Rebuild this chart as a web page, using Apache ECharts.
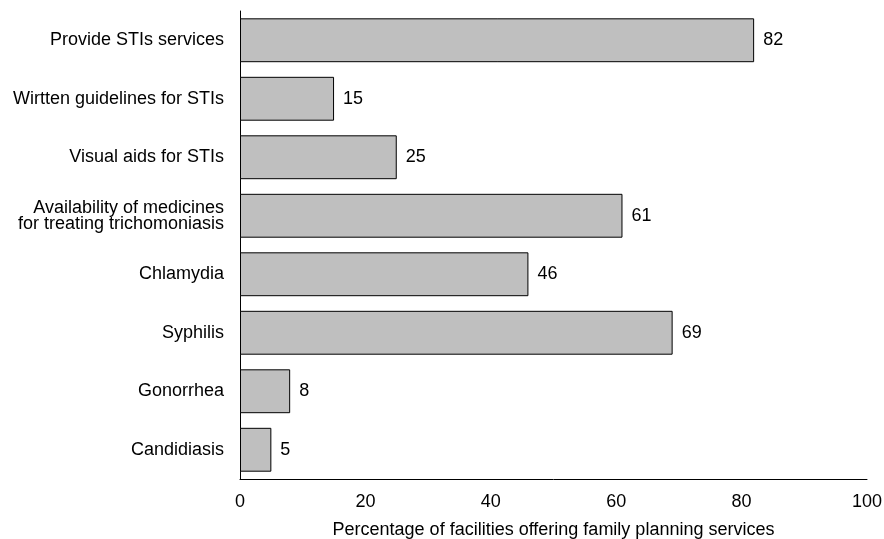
<!DOCTYPE html>
<html>
<head>
<meta charset="utf-8">
<script src="https://cdn.jsdelivr.net/npm/echarts@6/dist/echarts.min.js"></script>
<style>
  html, body { margin: 0; padding: 0; background: #fff; }
  #chart { width: 884px; height: 539px; }
</style>
</head>
<body>
<div id="chart"></div>
<script>
var categories = [
    'Provide STIs services',
    'Wirtten guidelines for STIs',
    'Visual aids for STIs',
    'Availability of medicines\nfor treating trichomoniasis',
    'Chlamydia',
    'Syphilis',
    'Gonorrhea',
    'Candidiasis'
];
var values = [82, 15, 25, 61, 46, 69, 8, 5];
var xTicks = [0, 20, 40, 60, 80, 100];

var fontFamily = 'Liberation Sans, Arial, sans-serif';
var fontColor = '#000';
var fontSize = 18;

var myChart = echarts.init(document.getElementById('chart'));

var option = {
    animation: false,
    grid: {
        left: 240,
        right: 17,
        top: 11,
        bottom: 60,
        outerBoundsMode: 'none',
        containLabel: false
    },
    xAxis: {
        type: 'value',
        min: xTicks[0],
        max: xTicks[xTicks.length - 1],
        interval: 20,
        name: 'Percentage of facilities offering family planning services',
        nameLocation: 'middle',
        nameGap: 42,
        nameTextStyle: { color: fontColor, fontSize: fontSize, fontFamily: fontFamily },
        axisLine: { show: true, lineStyle: { color: '#000', width: 1 } },
        axisTick: { show: false },
        splitLine: { show: false },
        axisLabel: { color: fontColor, fontSize: fontSize, fontFamily: fontFamily, margin: 14 }
    },
    yAxis: {
        type: 'category',
        inverse: true,
        data: categories,
        axisLine: { show: true, lineStyle: { color: '#000', width: 1 } },
        axisTick: { show: false },
        axisLabel: {
            color: fontColor,
            fontSize: fontSize,
            fontFamily: fontFamily,
            margin: 16,
            lineHeight: 16,
            align: 'right'
        }
    },
    series: [{
        type: 'bar',
        data: values,
        barWidth: '75%',
        itemStyle: {
            color: '#bfbfbf',
            borderColor: '#000',
            borderWidth: 1
        },
        label: {
            show: true,
            position: 'right',
            distance: 9,
            color: fontColor,
            fontSize: fontSize,
            fontFamily: fontFamily
        }
    }]
};
myChart.setOption(option);
</script>
</body>
</html>
